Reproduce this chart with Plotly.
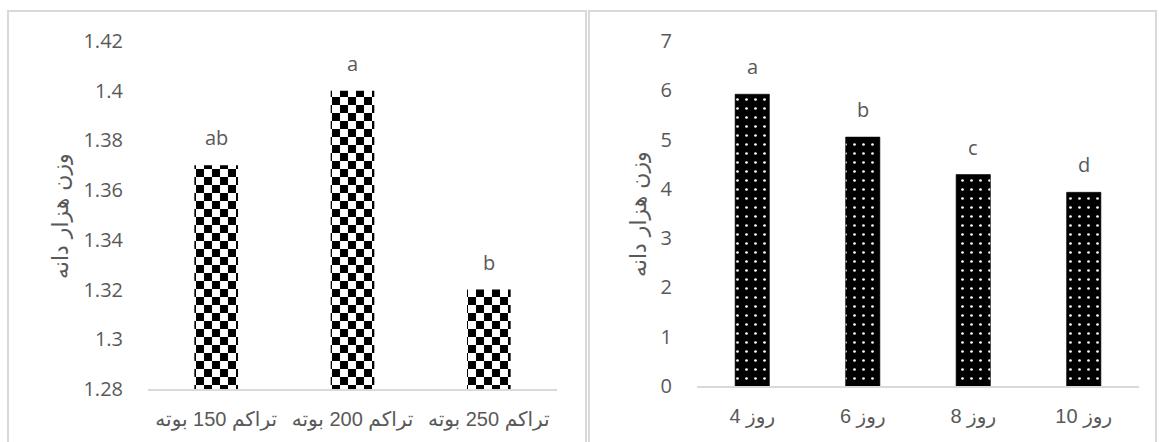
import plotly.graph_objects as go

W, H = 1159, 442

# Left chart: plant density
density_labels = ["تراکم 150 بوته", "تراکم 200 بوته", "تراکم 250 بوته"]
density_values = [1.37, 1.40, 1.32]
density_letters = ["ab", "a", "b"]
density_ticks = [1.28, 1.30, 1.32, 1.34, 1.36, 1.38, 1.40, 1.42]
density_ticktext = ["1.28", "1.3", "1.32", "1.34", "1.36", "1.38", "1.4", "1.42"]

# Right chart: days
day_labels = ["4 روز", "6 روز", "8 روز", "10 روز"]
day_values = [5.92, 5.05, 4.29, 3.93]
day_letters = ["a", "b", "c", "d"]
day_ticks = [0, 1, 2, 3, 4, 5, 6, 7]

y_title = "وزن هزار دانه"

GRAY = "#595959"
AXIS_GRAY = "#d9d9d9"
TICK_FONT = dict(family="Open Sans, sans-serif", size=20, color=GRAY)
CAT_FONT = dict(family="Liberation Sans, DejaVu Sans, sans-serif", size=20, color=GRAY)


def px_x(p):
    return p / W


def px_y(p):
    return 1 - p / H


fig = go.Figure()

fig.add_trace(go.Bar(
    x=density_labels, y=density_values, width=0.32,
    marker=dict(color="white",
                pattern=dict(shape="+", size=16, fgcolor="black", bgcolor="white", solidity=0.5),
                line=dict(width=0)),
    xaxis="x", yaxis="y", hoverinfo="skip",
))

fig.add_trace(go.Bar(
    x=day_labels, y=day_values, width=0.31,
    marker=dict(color="black",
                pattern=dict(shape=".", size=9, fgcolor="white", bgcolor="black", solidity=0.07,
                             fillmode="replace"),
                line=dict(width=0.6, color="black")),
    xaxis="x2", yaxis="y2", hoverinfo="skip",
))

annotations = []
for cat, val, letter in zip(density_labels, density_values, density_letters):
    annotations.append(dict(x=cat, y=val, xref="x", yref="y", text=letter, showarrow=False,
                            yanchor="bottom", yshift=12, font=TICK_FONT))
for cat, val, letter in zip(day_labels, day_values, day_letters):
    annotations.append(dict(x=cat, y=val, xref="x2", yref="y2", text=letter, showarrow=False,
                            yanchor="bottom", yshift=12, font=TICK_FONT))

title_font = dict(family="DejaVu Sans, sans-serif", size=22, color=GRAY)
annotations.append(dict(x=px_x(60), y=px_y(216), xref="paper", yref="paper", text=y_title,
                        textangle=-90, showarrow=False, font=title_font,
                        xanchor="center", yanchor="middle"))
annotations.append(dict(x=px_x(638), y=px_y(214), xref="paper", yref="paper", text=y_title,
                        textangle=-90, showarrow=False, font=title_font,
                        xanchor="center", yanchor="middle"))

shapes = [
    dict(type="rect", xref="paper", yref="paper", x0=px_x(8), x1=px_x(586),
         y0=-0.05, y1=px_y(11), line=dict(color=AXIS_GRAY, width=2)),
    dict(type="rect", xref="paper", yref="paper", x0=px_x(589), x1=px_x(1156),
         y0=-0.05, y1=px_y(11), line=dict(color=AXIS_GRAY, width=2)),
]

xaxis_common = dict(showgrid=False, zeroline=False, showline=True, linecolor=AXIS_GRAY,
                    linewidth=1.5, ticks="", tickfont=CAT_FONT, ticklabelstandoff=11,
                    fixedrange=True, automargin=False)
yaxis_common = dict(showgrid=False, zeroline=False, showline=False, ticks="",
                    tickfont=TICK_FONT, ticklabelstandoff=24, fixedrange=True,
                    automargin=False)

fig.update_layout(
    width=W, height=H,
    margin=dict(l=0, r=0, t=0, b=0, pad=0),
    paper_bgcolor="white", plot_bgcolor="white",
    showlegend=False,
    bargap=0.68,
    xaxis=dict(domain=[px_x(148), px_x(557)], anchor="y", **xaxis_common),
    yaxis=dict(domain=[px_y(389), px_y(41)], anchor="x", range=[1.28, 1.42],
               tickvals=density_ticks, ticktext=density_ticktext, **yaxis_common),
    xaxis2=dict(domain=[px_x(697), px_x(1139)], anchor="y2", **xaxis_common),
    yaxis2=dict(domain=[px_y(386), px_y(41)], anchor="x2", range=[0, 7],
                tickvals=day_ticks, **yaxis_common),
    annotations=annotations,
    shapes=shapes,
)

# Page reset (no body margin) and a black/white checkerboard for the 16px
# "+" tiles used by the density bars.
page_js = """
document.documentElement.style.margin = '0';
document.documentElement.style.overflow = 'hidden';
document.body.style.margin = '0';
document.body.style.overflow = 'hidden';
function makeChecker() {
  var ns = 'http://www.w3.org/2000/svg';
  document.querySelectorAll('pattern').forEach(function (p) {
    if (p.getAttribute('width') !== '16px' || p.getAttribute('data-checker')) return;
    while (p.firstChild) p.removeChild(p.firstChild);
    var cells = [[0, 0, 16, 16, 'white'], [0, 0, 8, 8, 'black'], [8, 8, 8, 8, 'black']];
    cells.forEach(function (c) {
      var r = document.createElementNS(ns, 'rect');
      r.setAttribute('x', c[0]); r.setAttribute('y', c[1]);
      r.setAttribute('width', c[2]); r.setAttribute('height', c[3]);
      r.setAttribute('fill', c[4]);
      r.setAttribute('shape-rendering', 'crispEdges');
      p.appendChild(r);
    });
    p.setAttribute('data-checker', '1');
  });
}
makeChecker();
document.querySelectorAll('.js-plotly-plot').forEach(function (gd) {
  if (gd.on) gd.on('plotly_afterplot', makeChecker);
});
"""

fig.write_html("out.html", config={"displayModeBar": False}, post_script=page_js)
